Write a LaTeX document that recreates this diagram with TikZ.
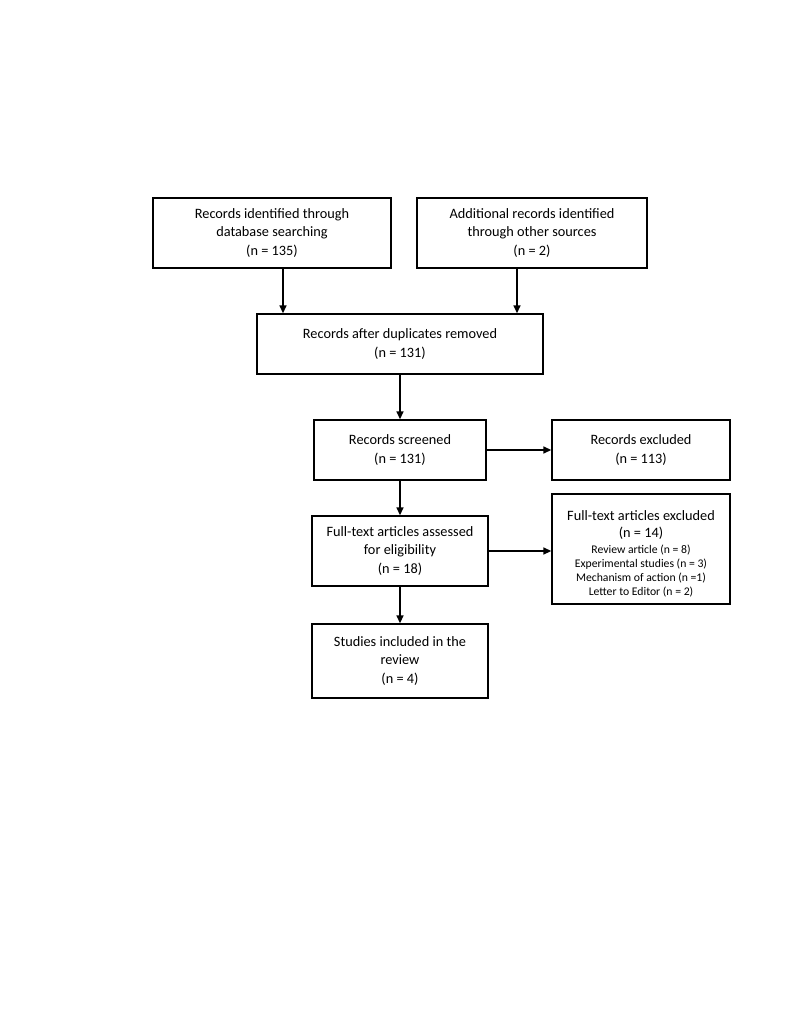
\documentclass[tikz,border=0pt]{standalone}
\usepackage{fontspec}
\setmainfont{Carlito}
\usetikzlibrary{arrows.meta}

\begin{document}
\begin{tikzpicture}[x=1pt, y=-1pt, >={Triangle[length=8pt,width=7pt]},
    flowbox/.style={draw, line width=1.4pt, align=center, inner sep=0pt,
        font=\fontsize{14.3}{18.5}\selectfont},
    flowarrow/.style={->, line width=1.5pt}]
    \useasboundingbox (0,0) rectangle (800,1035);
    % identification
    \node[flowbox, minimum width=238, minimum height=70] (ident) at (272,233)
        {Records identified through\\database searching\\(n = 135)};
    \node[flowbox, minimum width=230, minimum height=70] (other) at (532,233)
        {Additional records identified\\through other sources\\(n = 2)};
    \node[flowbox, minimum width=286, minimum height=60] (dupl) at (400,344)
        {Records after duplicates removed\\(n = 131)};
    % screening
    \node[flowbox, minimum width=172, minimum height=60] (screen) at (400,450)
        {Records screened\\(n = 131)};
    \node[flowbox, minimum width=178, minimum height=60] (excl) at (641,450)
        {Records excluded\\(n = 113)};
    % eligibility
    \node[flowbox, minimum width=176, minimum height=70] (full) at (400,551)
        {Full-text articles assessed\\for eligibility\\(n = 18)};
    \node[flowbox, minimum width=178, minimum height=110] (fullexcl) at (641,549)
        {\rule{0pt}{19pt}Full-text articles excluded\\[-1.5pt](n = 14)\\[-2.5pt]
        {\fontsize{11.7}{14}\selectfont Review article (n = 8)}\\[-4.5pt]
        {\fontsize{11.7}{14}\selectfont Experimental studies (n = 3)}\\[-4.5pt]
        {\fontsize{11.7}{14}\selectfont Mechanism of action (n =1)}\\[-4.5pt]
        {\fontsize{11.7}{14}\selectfont Letter to Editor (n = 2)}};
    % included
    \node[flowbox, minimum width=176, minimum height=74] (incl) at (400,661)
        {Studies included in the\\review\\(n = 4)};

    \draw[flowarrow] ([xshift=11]ident.south) -- ([xshift=11]ident.south |- dupl.north);
    \draw[flowarrow] ([xshift=-15]other.south) -- ([xshift=-15]other.south |- dupl.north);
    \draw[flowarrow] (dupl) -- (screen);
    \draw[flowarrow] (screen) -- (excl);
    \draw[flowarrow] (screen) -- (full);
    \draw[flowarrow] (full) -- (fullexcl.west |- full);
    \draw[flowarrow] (full) -- (incl);
\end{tikzpicture}
\end{document}
